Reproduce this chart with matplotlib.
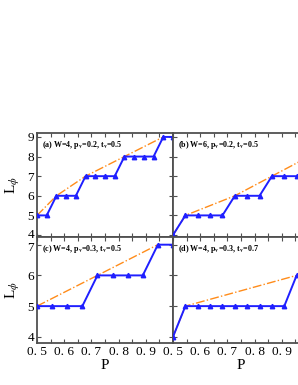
import matplotlib
matplotlib.use("Agg")
import matplotlib.pyplot as plt
import matplotlib.transforms as mtransforms
from matplotlib.ticker import MultipleLocator
import numpy as np

plt.rcParams['font.family'] = ['Liberation Serif', 'DejaVu Serif']
plt.rcParams['mathtext.fontset'] = 'stix'

# ---- data ----
# (a) W=4, pv=0.2, tv=0.5
pa_x = [0.5 + k / 28 for k in range(15)]
pa_y = [5, 5, 6, 6, 6, 7, 7, 7, 7, 8, 8, 8, 8, 9, 9]
pa_bx = [0.5, 0.5714, 0.6786, 0.8214, 0.9643]
pa_by = [5, 6, 7, 8, 9]
# (b) W=6, pv=0.2, tv=0.5
pb_x = [0.5 + k / 22 for k in range(12)]
pb_y = [4, 5, 5, 5, 5, 6, 6, 6, 7, 7, 7, 7]
pb_bx = [0.5, 0.5455, 0.7273, 0.8636, 1.0]
pb_by = [4, 5, 6, 7, 8]
# (c) W=4, pv=0.3, tv=0.5
pc_x = [0.5 + k / 18 for k in range(10)]
pc_y = [5, 5, 5, 5, 6, 6, 6, 6, 7, 7]
pc_bx = [0.5, 0.7222, 0.9444]
pc_by = [5, 6, 7]
# (d) W=4, pv=0.3, tv=0.7
pd_x = [0.5 + k / 22 for k in range(12)]
pd_y = [4, 5, 5, 5, 5, 5, 5, 5, 5, 5, 6, 6]
pd_bx = [0.5, 0.5455, 0.9545]
pd_by = [4, 5, 6]

labels = [r"(a) W=4, p$_\mathbf{v}$=0.2, t$_\mathbf{v}$=0.5",
          r"(b) W=6, p$_\mathbf{v}$=0.2, t$_\mathbf{v}$=0.5",
          r"(c) W=4, p$_\mathbf{v}$=0.3, t$_\mathbf{v}$=0.5",
          r"(d) W=4, p$_\mathbf{v}$=0.3, t$_\mathbf{v}$=0.7"]
xticks = [0.5, 0.6, 0.7, 0.8, 0.9]
xticklabels = ["0. 5", "0. 6", "0. 7", "0. 8", "0. 9"]

W, H = 298, 385
fig = plt.figure(figsize=(W / 100, H / 100), dpi=100)

def pos(l, t, r, b):
    return [l / W, 1 - b / H, (r - l) / W, (b - t) / H]

axs = [fig.add_axes(pos(37, 133, 173, 237)),
       fig.add_axes(pos(173, 133, 309, 237)),
       fig.add_axes(pos(37, 237, 173, 343)),
       fig.add_axes(pos(173, 237, 309, 343))]

data = [(pa_x, pa_y, pa_bx, pa_by), (pb_x, pb_y, pb_bx, pb_by),
        (pc_x, pc_y, pc_bx, pc_by), (pd_x, pd_y, pd_bx, pd_by)]

blue = '#1f1fff'
orange = '#ff8c1a'
spine_c = '#505050'

for i, ax in enumerate(axs):
    x, y, bx, by = data[i]
    ax.plot(bx, by, color=orange, lw=1.0, ls='-.', zorder=2)
    ax.plot(x, y, color=blue, lw=1.4, marker='^', ms=3.2, mfc=blue, mec=blue, zorder=3)
    ax.set_xlim(0.5, 1.0)
    if i < 2:
        ax.set_ylim(3.9, 9.2)
        ax.set_yticks([4, 5, 6, 7, 8, 9])
    else:
        ax.set_ylim(3.8, 7.25)
        ax.set_yticks([4, 5, 6, 7])
    ax.set_xticks(xticks)
    ax.xaxis.set_minor_locator(MultipleLocator(0.05))
    ax.tick_params(which='both', direction='in', top=True, right=True,
                   length=3, width=0.8, color=spine_c, labelsize=9.5, pad=2)
    ax.tick_params(which='minor', length=3)
    for s in ax.spines.values():
        s.set_color(spine_c)
        s.set_linewidth(1.3)
    if i < 2:
        ax.set_xticklabels([])
    else:
        ax.set_xticklabels(xticklabels)
        ax.set_xlabel("P", fontsize=11, labelpad=1)
    if i % 2 == 1:
        ax.set_yticklabels([])
    else:
        ax.set_ylabel(r"L$_\phi$", fontsize=11, labelpad=4)
    ax.text(5 / 136, 1 - 12 / 104 if i < 2 else 1 - 12 / 106, labels[i],
            transform=ax.transAxes, fontsize=5.8,
            fontweight='bold', va='center', ha='left')

# nudge the touching "4" (top) and "7" (bottom) labels apart slightly
fig.canvas.draw()
up = mtransforms.ScaledTranslation(0, 1.5 / 100, fig.dpi_scale_trans)
down = mtransforms.ScaledTranslation(0, -1.5 / 100, fig.dpi_scale_trans)
lab_top = axs[0].get_yticklabels()[0]
lab_top.set_transform(lab_top.get_transform() + up)
lab_bot = axs[2].get_yticklabels()[-1]
lab_bot.set_transform(lab_bot.get_transform() + down)

fig.savefig("out.png", dpi=100)
